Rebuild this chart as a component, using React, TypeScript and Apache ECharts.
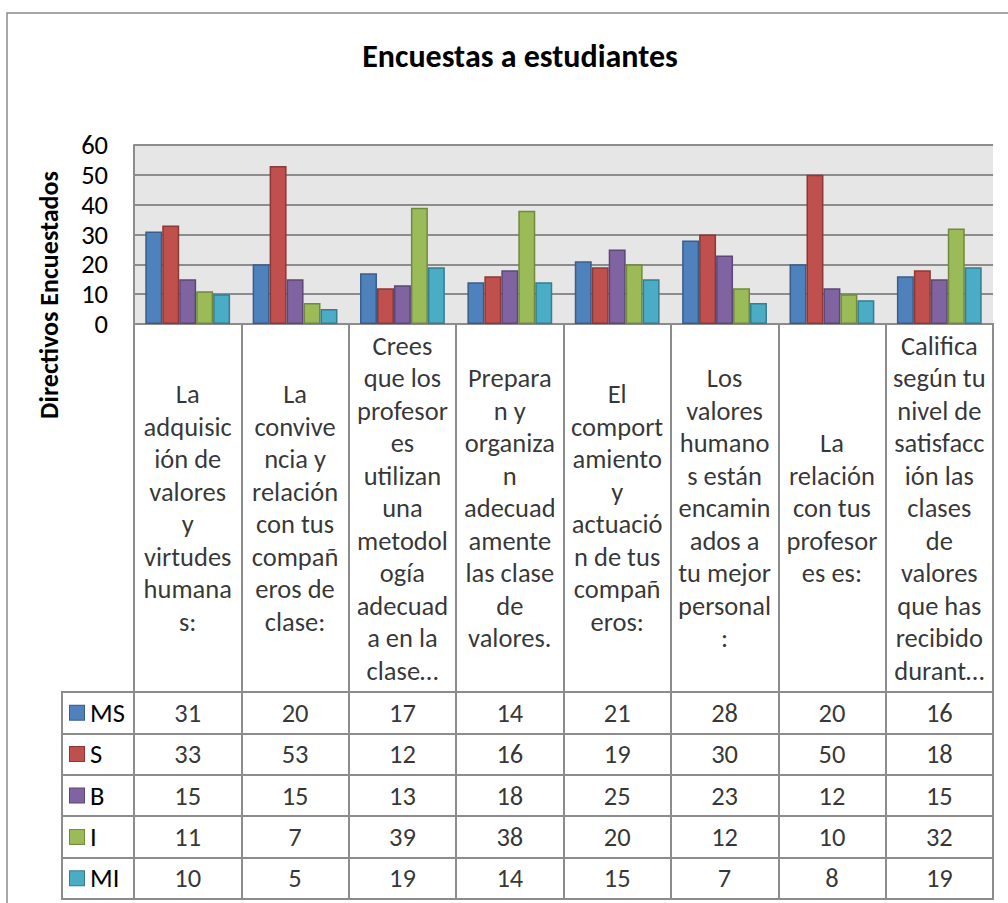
import React, { useEffect, useRef } from "react";
import * as echarts from "echarts";

const titleText = "Encuestas a estudiantes";
const yAxisTitle = "Directivos Encuestados";

const categoryLines: string[][] = [
  ["La", "adquisic", "ión de", "valores", "y", "virtudes", "humana", "s:"],
  ["La", "convive", "ncia y", "relación", "con tus", "compañ", "eros de", "clase:"],
  ["Crees", "que los", "profesor", "es", "utilizan", "una", "metodol", "ogía", "adecuad", "a en la", "clase…"],
  ["Prepara", "n y", "organiza", "n", "adecuad", "amente", "las clase", "de", "valores."],
  ["El", "comport", "amiento", "y", "actuació", "n de tus", "compañ", "eros:"],
  ["Los", "valores", "humano", "s están", "encamin", "ados a", "tu mejor", "personal", ":"],
  ["La", "relación", "con tus", "profesor", "es es:"],
  ["Califica", "según tu", "nivel de", "satisfacc", "ión las", "clases", "de", "valores", "que has", "recibido", "durant…"],
];
const categories = categoryLines.map((l) => l.join("\n"));

const seriesNames = ["MS", "S", "B", "I", "MI"];
const msValues = [31, 20, 17, 14, 21, 28, 20, 16];
const sValues = [33, 53, 12, 16, 19, 30, 50, 18];
const bValues = [15, 15, 13, 18, 25, 23, 12, 15];
const iValues = [11, 7, 39, 38, 20, 12, 10, 32];
const miValues = [10, 5, 19, 14, 15, 7, 8, 19];
const seriesValues = [msValues, sValues, bValues, iValues, miValues];

const yTicks = { min: 0, max: 60, interval: 10 };

const fillColors = ["#4F81BD", "#C0504D", "#8064A2", "#9BBB59", "#4BACC6"];
const edgeColors = ["#385D8A", "#8C3836", "#5C4776", "#71893F", "#357D91"];

const FONT = "Carlito, Calibri, Lato, sans-serif";
const GRIDLINE = "#8c8c8c";
const FS = 26.5;

export default function App() {
  const ref = useRef<HTMLDivElement>(null);
  useEffect(() => {
    if (!ref.current) return;
    const chart = echarts.init(ref.current, null, { renderer: "svg" });

    const plotLeft = 134;
    const plotWidth = 859;
    const plotTop = 145;
    const plotBottom = 324;
    const headerBottom = 692;
    const tableBottom = 899;

    const rich: any = {
      t: { fontSize: FS, fontFamily: FONT, fontWeight: "normal", color: "#000", padding: [0, 0, 0, 6] },
    };
    seriesNames.forEach((n, i) => {
      rich["b" + i] = {
        width: 14,
        height: 14,
        backgroundColor: fillColors[i],
        borderColor: edgeColors[i],
        borderWidth: 1,
      };
    });

    const option: any = {
      animation: false,
      backgroundColor: "#ffffff",
      textStyle: { fontFamily: FONT },
      title: {
        text: titleText,
        left: 515,
        textAlign: "center",
        top: 35,
        textStyle: { fontSize: 32, fontWeight: "bold", color: "#000", fontFamily: FONT },
      },
      graphic: [
        {
          type: "rect",
          shape: { x: 7, y: 13, width: 1020, height: 920 },
          style: { fill: "none", stroke: "#8a8a8a", lineWidth: 1.5 },
          silent: true,
        },
        {
          type: "text",
          x: 49,
          y: 295,
          rotation: Math.PI / 2,
          style: {
            text: yAxisTitle,
            font: `bold 26px ${FONT}`,
            fill: "#000",
            textAlign: "center",
            textVerticalAlign: "middle",
          },
        },
      ],
      grid: [
        {
          left: plotLeft,
          top: plotTop,
          width: plotWidth,
          height: plotBottom - plotTop,
          show: true,
          backgroundColor: "#e6e6e6",
          borderWidth: 0,
        },
        {
          left: plotLeft,
          top: plotBottom,
          width: plotWidth,
          height: headerBottom - plotBottom,
          show: true,
          backgroundColor: "transparent",
          borderColor: GRIDLINE,
          borderWidth: 2,
        },
        {
          left: plotLeft,
          top: headerBottom,
          width: plotWidth,
          height: tableBottom - headerBottom,
          show: true,
          backgroundColor: "transparent",
          borderColor: GRIDLINE,
          borderWidth: 2,
        },
        {
          left: 62,
          top: headerBottom,
          width: plotLeft - 62,
          height: tableBottom - headerBottom,
          show: true,
          backgroundColor: "transparent",
          borderColor: GRIDLINE,
          borderWidth: 2,
        },
      ],
      xAxis: [
        {
          type: "category",
          gridIndex: 0,
          data: categories,
          axisLabel: { show: false },
          axisTick: { show: false },
          axisLine: { show: true, lineStyle: { color: GRIDLINE, width: 2 } },
        },
        {
          type: "category",
          gridIndex: 1,
          data: categories,
          axisLabel: { show: false },
          axisTick: { show: false },
          axisLine: { show: false },
          splitLine: { show: true, interval: 0, lineStyle: { color: GRIDLINE, width: 2 } },
        },
        {
          type: "category",
          gridIndex: 2,
          data: categories,
          axisLabel: { show: false },
          axisTick: { show: false },
          axisLine: { show: false },
          splitLine: { show: true, interval: 0, lineStyle: { color: GRIDLINE, width: 2 } },
        },
        {
          type: "value",
          gridIndex: 3,
          min: 0,
          max: 1,
          show: false,
        },
      ],
      yAxis: [
        {
          type: "value",
          gridIndex: 0,
          min: yTicks.min,
          max: yTicks.max,
          interval: yTicks.interval,
          axisLabel: { fontSize: FS, color: "#000", margin: 26, fontFamily: FONT },
          axisTick: { show: false },
          axisLine: { show: true, lineStyle: { color: GRIDLINE, width: 2 } },
          splitLine: { show: true, lineStyle: { color: GRIDLINE, width: 2 } },
        },
        {
          type: "value",
          gridIndex: 1,
          min: 0,
          max: 1,
          show: false,
        },
        {
          type: "category",
          gridIndex: 2,
          data: seriesNames,
          inverse: true,
          axisTick: { show: false },
          axisLine: { show: false },
          axisLabel: {
            show: true,
            align: "left",
            margin: 64,
            fontWeight: "normal",
            formatter: (v: string, idx: number) => `{b${idx}| }{t|${v}}`,
            rich,
          },
          splitLine: { show: true, interval: 0, lineStyle: { color: GRIDLINE, width: 2 } },
        },
        {
          type: "category",
          gridIndex: 3,
          data: seriesNames,
          inverse: true,
          axisTick: { show: false },
          axisLine: { show: false },
          axisLabel: { show: false },
          splitLine: { show: true, interval: 0, lineStyle: { color: GRIDLINE, width: 2 } },
        },
      ],
      series: [
        ...seriesNames.map((name, si) => ({
          type: "bar",
          name,
          xAxisIndex: 0,
          yAxisIndex: 0,
          data: seriesValues[si],
          barGap: "0%",
          barCategoryGap: "21%",
          itemStyle: { color: fillColors[si], borderColor: edgeColors[si], borderWidth: 1.5 },
        })),
        {
          type: "scatter",
          name: "header",
          xAxisIndex: 1,
          yAxisIndex: 1,
          symbolSize: 0,
          silent: true,
          data: categories.map((c, i) => [i, 0.5, c]),
          label: {
            show: true,
            position: "inside",
            formatter: (p: any) => p.value[2],
            fontSize: FS,
            lineHeight: 32.5,
            color: "#000",
            fontFamily: FONT,
            align: "center",
            verticalAlign: "middle",
          },
        },
        ...seriesNames.map((name, si) => ({
          type: "scatter",
          name: name + "-table",
          xAxisIndex: 2,
          yAxisIndex: 2,
          symbolSize: 0,
          silent: true,
          data: seriesValues[si].map((v, ci) => [ci, si, v]),
          label: {
            show: true,
            position: "inside",
            formatter: (p: any) => String(p.value[2]),
            fontSize: FS,
            color: "#000",
            fontFamily: FONT,
            align: "center",
            verticalAlign: "middle",
          },
        })),
      ],
    };

    chart.setOption(option);
    return () => chart.dispose();
  }, []);

  return (
    <div
      ref={ref}
      style={{ position: "fixed", left: 0, top: 0, width: 1008, height: 903 }}
    />
  );
}
